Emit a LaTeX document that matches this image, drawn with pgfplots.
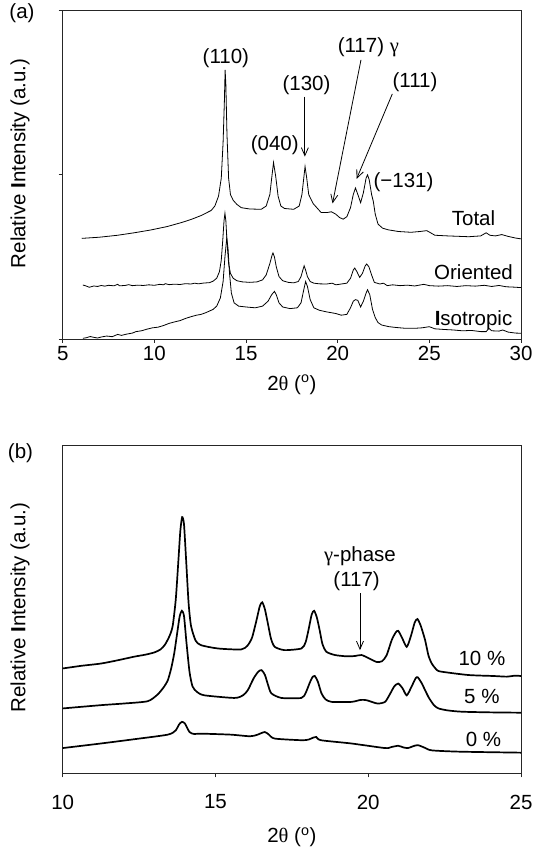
\documentclass[border=0pt]{standalone}
\usepackage{fontspec}
\setmainfont{Liberation Sans}
\newfontfamily\grk{Liberation Serif}
\usepackage{pgfplots}
\pgfplotsset{compat=1.18}
\usetikzlibrary{arrows.meta}
\tikzset{arr/.style={-{Straight Barb[length=8pt,width=7pt]}, line width=0.8pt}}
\begin{document}
\begin{tikzpicture}[font=\fontsize{20.5}{24}\selectfont]
\useasboundingbox (0pt,0pt) rectangle (535pt,850pt);
\pgfplotsset{
  base/.style={
    scale only axis, clip=false,
    axis line style={line width=0.9pt, black!85},
    every tick/.style={line width=0.9pt, black!85},
    major tick length=4pt, tick align=outside,
    xtick pos=bottom, ytick pos=left,
    /pgf/number format/assume math mode=true,
    tick label style={font=\fontsize{20.5}{24}\selectfont},
    label style={font=\fontsize{20.5}{24}\selectfont},
    xlabel={2{\grk θ} (\textsuperscript{o})},
    ylabel={Relative \textbf{I}ntensity (a.u.)},
  },
}
% ---------------- panel (a)
\begin{axis}[base, at={(62.7pt,511pt)}, anchor=south west,
  width=458.3pt, height=328.3pt,
  xmin=5, xmax=30, ymin=0, ymax=2,
  xtick={5,10,15,20,25,30}, ytick={0,1,2}, yticklabels={},
  xlabel style={at={(axis description cs:0.5,-0.14)}, anchor=center},
  ylabel style={at={(axis description cs:-0.093,0.535)}, anchor=center},
]
% Total
\addplot[black, line width=0.8pt, sharp plot] coordinates {
(6.04,0.613) (7.0,0.620) (8.0,0.632) (8.9,0.647) (9.8,0.664) (10.7,0.685)
(11.5,0.710) (12.0,0.728) (12.55,0.752) (13.1,0.783) (13.3,0.81) (13.5,0.87)
(13.65,0.98) (13.75,1.20) (13.82,1.45) (13.86,1.64) (13.9,1.55) (13.96,1.25)
(14.05,0.98) (14.15,0.88) (14.3,0.845) (14.5,0.82) (14.74,0.80) (15.2,0.792)
(15.83,0.79) (16.1,0.81) (16.3,0.88) (16.4,0.98) (16.5,1.075) (16.62,0.99)
(16.75,0.87) (16.9,0.81) (17.1,0.795) (17.6,0.79) (17.9,0.81) (18.05,0.88)
(18.15,0.98) (18.22,1.05) (18.3,0.99) (18.42,0.88) (18.66,0.825) (19.1,0.77)
(19.4,0.77) (19.66,0.775) (19.9,0.76) (20.1,0.74) (20.3,0.73) (20.5,0.745)
(20.7,0.80) (20.85,0.88) (20.97,0.92) (21.1,0.88) (21.25,0.83) (21.4,0.89)
(21.55,0.98) (21.63,1.00) (21.72,0.97) (21.85,0.88) (21.94,0.84) (22.05,0.76)
(22.2,0.70) (22.45,0.675) (22.76,0.665) (23.3,0.655) (24.0,0.65) (24.5,0.655)
(24.86,0.66) (25.1,0.645) (25.3,0.632) (26.0,0.628) (27.15,0.623) (27.8,0.628)
(28.1,0.647) (28.3,0.632) (28.6,0.628) (28.95,0.636) (29.3,0.625) (29.7,0.615)
(30.0,0.61)
};
% Oriented
\addplot[black, line width=0.8pt, sharp plot] coordinates {
(6.1,0.329) (6.3,0.322) (6.45,0.315) (6.7,0.323) (6.9,0.320) (7.1,0.326)
(7.3,0.322) (7.5,0.327) (7.8,0.324) (8.0,0.333) (8.1,0.324) (8.4,0.326)
(8.6,0.331) (8.8,0.325) (9.1,0.328) (9.4,0.326) (9.7,0.330) (10.0,0.327)
(10.3,0.333) (10.5,0.330) (10.6,0.337) (10.8,0.331) (11.1,0.334) (11.4,0.332)
(11.7,0.337) (12.0,0.335) (12.2,0.340) (12.4,0.336) (12.7,0.341) (13.0,0.343)
(13.2,0.352) (13.4,0.37) (13.55,0.41) (13.65,0.48) (13.73,0.60) (13.8,0.72)
(13.85,0.766) (13.9,0.72) (13.97,0.58) (14.05,0.46) (14.15,0.40) (14.3,0.37)
(14.5,0.355) (14.8,0.348) (15.2,0.345) (15.6,0.348) (15.9,0.36) (16.1,0.39)
(16.3,0.46) (16.42,0.51) (16.47,0.524) (16.55,0.50) (16.65,0.44) (16.8,0.38)
(17.0,0.355) (17.3,0.345) (17.6,0.342) (17.85,0.35) (18.0,0.38) (18.1,0.42)
(18.17,0.446) (18.25,0.42) (18.35,0.38) (18.5,0.35) (18.7,0.34) (19.0,0.336)
(19.4,0.335) (19.7,0.34) (19.9,0.33) (20.2,0.335) (20.5,0.34) (20.7,0.37)
(20.85,0.42) (20.93,0.432) (21.05,0.41) (21.2,0.375) (21.35,0.40) (21.5,0.445)
(21.58,0.457) (21.7,0.44) (21.85,0.39) (22.0,0.345) (22.3,0.335) (22.5,0.34)
(22.7,0.325) (23.0,0.33) (23.4,0.325) (23.8,0.328) (24.2,0.323) (24.7,0.333)
(25.0,0.325) (25.5,0.322) (26.0,0.325) (26.5,0.32) (27.0,0.325) (27.5,0.322)
(28.0,0.327) (28.4,0.32) (28.8,0.326) (29.2,0.318) (29.6,0.316) (30.0,0.313)
};
% Isotropic
\addplot[black, line width=0.8pt, sharp plot] coordinates {
(6.1,0.004) (6.3,0.008) (6.5,0.015) (6.7,0.010) (6.9,0.006) (7.1,0.012)
(7.4,0.018) (7.7,0.014) (8.0,0.028) (8.2,0.022) (8.5,0.030) (8.8,0.036)
(9.0,0.045) (9.3,0.050) (9.6,0.060) (9.9,0.068) (10.2,0.072) (10.5,0.082)
(10.8,0.095) (11.1,0.104) (11.4,0.112) (11.7,0.125) (12.0,0.136) (12.3,0.145)
(12.55,0.15) (12.8,0.16) (13.0,0.17) (13.2,0.18) (13.4,0.20) (13.6,0.25)
(13.75,0.35) (13.85,0.50) (13.95,0.616) (14.02,0.55) (14.1,0.40) (14.2,0.28)
(14.35,0.22) (14.6,0.20) (15.0,0.195) (15.5,0.19) (15.9,0.20) (16.2,0.23)
(16.4,0.27) (16.55,0.29) (16.65,0.27) (16.8,0.22) (17.0,0.195) (17.4,0.185)
(17.8,0.19) (18.0,0.22) (18.15,0.30) (18.25,0.35) (18.35,0.32) (18.5,0.24)
(18.7,0.19) (19.0,0.175) (19.4,0.165) (19.66,0.16) (19.9,0.155) (20.2,0.145)
(20.5,0.15) (20.7,0.19) (20.85,0.23) (20.97,0.24) (21.1,0.235) (21.25,0.195)
(21.4,0.23) (21.55,0.28) (21.63,0.30) (21.75,0.27) (21.9,0.18) (22.05,0.13)
(22.2,0.10) (22.4,0.085) (22.8,0.075) (23.2,0.07) (23.7,0.065) (24.2,0.065)
(24.6,0.068) (25.0,0.075) (25.3,0.062) (25.8,0.058) (26.3,0.055) (26.8,0.05)
(27.3,0.052) (27.8,0.045) (28.1,0.045) (28.25,0.065) (28.4,0.05) (28.8,0.048)
(29.0,0.055) (29.3,0.042) (29.7,0.036) (30.0,0.035)
};
\node at (axis cs:13.9,1.71) {(110)};
\node at (axis cs:16.57,1.18) {(040)};
\node at (axis cs:18.3,1.547) {(130)};
\draw[arr] (axis cs:18.21,1.476) -- (axis cs:18.21,1.111);
\node at (axis cs:21.67,1.78) {(117) {\grk γ}};
\draw[arr] (axis cs:21.27,1.70) -- (axis cs:19.72,0.826);
\node at (axis cs:24.22,1.567) {(111)};
\draw[arr] (axis cs:22.98,1.493) -- (axis cs:21.03,0.975);
\node at (axis cs:23.59,0.958) {(−131)};
\node at (axis cs:27.41,0.735) {Total};
\node at (axis cs:27.41,0.41) {Oriented};
\node at (axis cs:27.41,0.116) {\textbf{I}sotropic};
\end{axis}
% ---------------- panel (b)
\begin{axis}[base, at={(62.7pt,76.7pt)}, anchor=south west,
  width=458.3pt, height=327.6pt,
  xmin=10, xmax=25, ymin=0, ymax=1,
  xtick={10,15,20,25}, ytick=\empty,
  xticklabel style={yshift=-14pt},
  xlabel style={at={(axis description cs:0.5,-0.195)}, anchor=center},
  ylabel style={at={(axis description cs:-0.093,0.506)}, anchor=center},
]
% 10 %
\addplot[black, line width=1.7pt, smooth, tension=0.4] coordinates {
(10.0,0.320) (10.6,0.328) (11.25,0.335) (11.8,0.345) (12.34,0.356) (12.7,0.362)
(13.0,0.369) (13.2,0.378) (13.35,0.393) (13.5,0.420) (13.6,0.45) (13.7,0.53)
(13.78,0.64) (13.85,0.74) (13.91,0.782) (13.97,0.76) (14.04,0.65) (14.12,0.52)
(14.2,0.45) (14.35,0.405) (14.53,0.391) (15.08,0.381) (15.84,0.378) (16.05,0.39)
(16.2,0.415) (16.35,0.47) (16.45,0.51) (16.53,0.522) (16.62,0.50) (16.72,0.455)
(16.82,0.41) (16.94,0.386) (17.26,0.376) (17.81,0.381) (17.95,0.40) (18.05,0.44)
(18.15,0.485) (18.23,0.496) (18.32,0.475) (18.41,0.437) (18.5,0.395) (18.63,0.371)
(18.91,0.361) (19.3,0.357) (19.56,0.358) (19.78,0.361) (20.0,0.352) (20.27,0.340)
(20.45,0.342) (20.6,0.36) (20.77,0.407) (20.9,0.43) (20.98,0.435) (21.1,0.415)
(21.26,0.386) (21.4,0.42) (21.52,0.46) (21.61,0.471) (21.72,0.45) (21.86,0.407)
(21.97,0.36) (22.08,0.335) (22.25,0.315) (22.41,0.310) (23.28,0.300) (24.1,0.297)
(24.54,0.295) (24.8,0.298) (25.0,0.297)
};
% 5 %
\addplot[black, line width=1.7pt, smooth, tension=0.4] coordinates {
(10.0,0.198) (11.25,0.208) (12.0,0.213) (12.78,0.220) (13.1,0.240) (13.3,0.262)
(13.44,0.284) (13.55,0.32) (13.65,0.366) (13.75,0.43) (13.83,0.48) (13.9,0.496)
(13.97,0.48) (14.05,0.40) (14.15,0.31) (14.25,0.265) (14.4,0.248) (14.64,0.238)
(15.62,0.230) (15.9,0.238) (16.06,0.254) (16.25,0.29) (16.4,0.31) (16.51,0.315)
(16.62,0.30) (16.72,0.27) (16.83,0.244) (17.16,0.230) (17.81,0.230) (17.95,0.245)
(18.08,0.275) (18.17,0.293) (18.25,0.297) (18.35,0.28) (18.47,0.244) (18.6,0.226)
(18.8,0.218) (19.45,0.218) (19.75,0.224) (19.95,0.223) (20.3,0.213) (20.55,0.218)
(20.7,0.24) (20.85,0.265) (20.98,0.274) (21.12,0.26) (21.26,0.238) (21.42,0.265)
(21.55,0.29) (21.62,0.293) (21.75,0.275) (21.97,0.233) (22.15,0.208) (22.3,0.198)
(22.6,0.192) (23.06,0.188) (24.0,0.186) (25.0,0.185)
};
% 0 %
\addplot[black, line width=1.7pt, smooth, tension=0.4] coordinates {
(10.0,0.077) (11.25,0.091) (12.34,0.104) (13.44,0.118) (13.7,0.131) (13.8,0.148)
(13.9,0.157) (14.0,0.152) (14.15,0.126) (14.3,0.12) (14.53,0.121) (15.5,0.118)
(16.12,0.113) (16.35,0.117) (16.61,0.126) (16.75,0.118) (16.94,0.106) (17.81,0.101)
(18.05,0.103) (18.2,0.109) (18.3,0.111) (18.45,0.101) (19.45,0.091) (20.55,0.077)
(20.75,0.080) (20.98,0.084) (21.15,0.079) (21.3,0.077) (21.45,0.082) (21.62,0.086)
(21.85,0.078) (22.08,0.070) (23.0,0.066) (25.0,0.063)
};
\node at (axis cs:19.73,0.661) {{\grk γ}-phase};
\node at (axis cs:19.62,0.585) {(117)};
\draw[arr] (axis cs:19.73,0.549) -- (axis cs:19.73,0.376);
\node at (axis cs:23.72,0.351) {10 \%};
\node at (axis cs:23.72,0.234) {5 \%};
\node at (axis cs:23.77,0.104) {0 \%};
\end{axis}
\node at (22pt,837pt) {(a)};
\node at (20.5pt,397pt) {(b)};
\end{tikzpicture}
\end{document}
